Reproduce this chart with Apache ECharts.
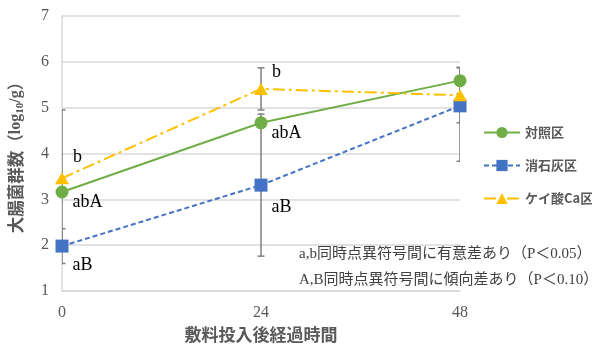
<!DOCTYPE html>
<html>
<head>
<meta charset="utf-8">
<script src="https://cdn.jsdelivr.net/npm/echarts@6/dist/echarts.min.js"></script>
<style>
  html, body { margin: 0; padding: 0; background: #fff; }
  #chart { width: 592px; height: 344px; }
</style>
</head>
<body>
<div id="chart"></div>
<script>
// Elapsed time after bedding application (h)
const hours = [0, 24, 48];
const xTicks = ['0', '24', '48'];

// Coliform counts (log10/g)
const seriesNames = ['対照区', '消石灰区', 'ケイ酸Ca区'];
const ctrlVals = [3.16, 4.67, 5.59];
const limeVals = [1.98, 3.31, 5.04];
const caSiVals = [3.46, 5.41, 5.27];

// Error bar ranges [low, high]; null = no bar
const ctrlErr = [null, null, [5.30, 5.88]];
const limeErr = [[1.60, 2.36], [1.76, 4.86], [3.83, 5.04]];
const caSiErr = [[1.97, 4.95], [4.95, 5.87], [4.67, 5.87]];

// Significance letters
const ctrlMarks = ['abA', 'abA', ''];
const limeMarks = ['aB', 'aB', ''];
const caSiMarks = ['b', 'b', ''];

const notes = [
  'a,b同時点異符号間に有意差あり（P＜0.05）',
  'A,B同時点異符号間に傾向差あり（P＜0.10）'
];

const SERIF = "'Liberation Serif', 'Noto Sans CJK JP', serif";
const GOTHIC = "'Noto Sans CJK JP', sans-serif";
const GREEN = '#70AD47', BLUE = '#4472C4', GOLD = '#FFC000';
const GRID = '#D9D9D9', TEXT = '#595959', ERR = '#7F7F7F';

// vertical label offsets for the letter marks, per series
const markDy = {
  ctrl: [10, 10, 0],
  lime: [19, 22, 0],
  caSi: [-21, -17, 0]
};

function pointData(vals, marks, dys) {
  return hours.map((h, i) => ({
    value: [h, vals[i]],
    label: {
      show: !!marks[i],
      formatter: marks[i],
      position: 'right',
      distance: 4,
      offset: [0, dys[i]]
    }
  }));
}

function errData(errs) {
  const out = [];
  errs.forEach((e, i) => { if (e) out.push([hours[i], e[0], e[1]]); });
  return out;
}

// error bar with caps, kept inside the plotting area
function renderErr(params, api) {
  const cs = params.coordSys;
  const x = api.value(0);
  const lo = api.coord([x, api.value(1)]);
  const hi = api.coord([x, api.value(2)]);
  const w = 3.5;
  const cx1 = Math.max(cs.x, lo[0] - w);
  const cx2 = Math.min(cs.x + cs.width, lo[0] + w);
  const style = { stroke: ERR, lineWidth: 1.5 };
  return {
    type: 'group',
    children: [
      { type: 'line', shape: { x1: lo[0], y1: lo[1], x2: hi[0], y2: hi[1] }, style },
      { type: 'line', shape: { x1: cx1, y1: hi[1], x2: cx2, y2: hi[1] }, style },
      { type: 'line', shape: { x1: cx1, y1: lo[1], x2: cx2, y2: lo[1] }, style }
    ]
  };
}

const labelStyle = { fontFamily: SERIF, fontSize: 18, color: '#000' };

const chart = echarts.init(document.getElementById('chart'), null, { renderer: 'canvas' });
chart.setOption({
  animation: false,
  backgroundColor: '#fff',
  grid: { left: 62, right: 132, top: 16, bottom: 53, containLabel: false, outerBoundsMode: 'none' },
  legend: {
    orient: 'vertical',
    left: 478,
    top: 121,
    itemWidth: 36,
    itemHeight: 14,
    itemGap: 20,
    data: seriesNames,
    textStyle: { fontFamily: GOTHIC, fontSize: 13, color: TEXT, fontWeight: 'bold' }
  },
  xAxis: {
    type: 'value',
    min: 0, max: 48, interval: 24,
    name: '敷料投入後経過時間',
    nameLocation: 'middle',
    nameGap: 32,
    nameTextStyle: { fontFamily: GOTHIC, fontSize: 17, color: TEXT, fontWeight: 'bold' },
    axisLine: { show: true, lineStyle: { color: GRID, width: 1.5 } },
    axisTick: { show: false },
    splitLine: { show: false },
    axisLabel: {
      margin: 14,
      fontFamily: SERIF, fontSize: 16, color: TEXT,
      formatter: v => xTicks[hours.indexOf(v)] ?? ''
    }
  },
  yAxis: {
    type: 'value',
    min: 1, max: 7, interval: 1,
    name: '{g|大腸菌群数（}{s|log}{sub|10}{s|/g}{g|）}',
    nameLocation: 'middle',
    nameRotate: 90,
    nameGap: 36,
    nameTextStyle: {
      rich: {
        g: { fontFamily: GOTHIC, fontSize: 16.5, color: TEXT, fontWeight: 'bold', lineHeight: 20 },
        s: { fontFamily: SERIF, fontSize: 16, color: TEXT, fontWeight: 'bold', lineHeight: 20 },
        sub: { fontFamily: SERIF, fontSize: 11, color: TEXT, fontWeight: 'bold', lineHeight: 20, verticalAlign: 'bottom', padding: [6, 0, 0, 0] }
      }
    },
    axisLine: { show: true, lineStyle: { color: GRID, width: 1.5 } },
    axisTick: { show: false },
    splitLine: { show: true, lineStyle: { color: GRID, width: 1.5 } },
    axisLabel: { margin: 13, fontFamily: SERIF, fontSize: 16, color: TEXT }
  },
  series: [
    {
      type: 'custom', renderItem: renderErr, clip: true, z: 1,
      data: errData(ctrlErr).concat(errData(limeErr), errData(caSiErr)),
      encode: { x: 0, y: [1, 2] }
    },
    {
      name: seriesNames[0], type: 'line', z: 3,
      data: pointData(ctrlVals, ctrlMarks, markDy.ctrl),
      symbol: 'circle', symbolSize: 13,
      itemStyle: { color: GREEN },
      lineStyle: { color: GREEN, width: 2, type: 'solid' },
      label: labelStyle
    },
    {
      name: seriesNames[1], type: 'line', z: 3,
      data: pointData(limeVals, limeMarks, markDy.lime),
      symbol: 'rect', symbolSize: 13,
      itemStyle: { color: BLUE },
      lineStyle: { color: BLUE, width: 2, type: [5, 3] },
      label: labelStyle
    },
    {
      name: seriesNames[2], type: 'line', z: 3,
      data: pointData(caSiVals, caSiMarks, markDy.caSi),
      symbol: 'triangle', symbolSize: [14, 12],
      itemStyle: { color: GOLD },
      lineStyle: { color: GOLD, width: 2, type: [12, 4, 3, 4] },
      label: labelStyle
    }
  ],
  graphic: notes.map((t, i) => ({
    type: 'text',
    left: 299,
    top: 247 + i * 26,
    style: { text: t, font: `15px ${SERIF}`, fill: '#404040' }
  }))
});
</script>
</body>
</html>
